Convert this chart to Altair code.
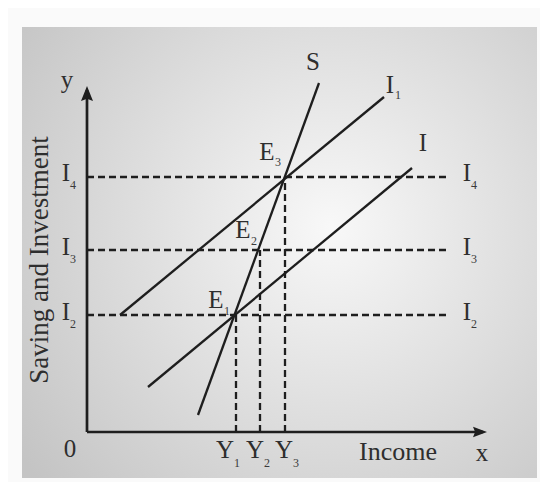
import altair as alt
import pandas as pd

# ---- data (units: arbitrary, origin at the axes' corner) ----
levels = ["I4", "I3", "I2"]
level_y = [255, 182, 117]
dash_x_end = 361

incomes = ["Y1", "Y2", "Y3"]
income_x = [149, 173, 198]
income_top = [117, 182, 255]

curve_names = ["S", "I1", "I"]
curve_x1 = [111, 33, 61]
curve_y1 = [17, 117, 45]
curve_x2 = [232, 297, 325]
curve_y2 = [349, 335, 264]

axis_x_end = 400
axis_y_end = 346

# labels: main text, subscript
lab_main = ["y", "S", "I", "I", "E", "E", "E", "I", "I", "I", "I", "I", "I", "0", "Y", "Y", "Y", "x"]
lab_mx = [-20, 226, 303, 336, 180, 156, 129, -21, -21, -21, 380, 380, 380, -17, 138, 168, 197, 395]
lab_my = [352, 370, 347, 289, 280, 202, 132, 259, 185, 120, 259, 185, 120, -17, -18, -18, -18, -21]
lab_sub = ["", "", "1", "", "3", "2", "1", "4", "3", "2", "4", "3", "2", "", "1", "2", "3", ""]
lab_sx = [0, 0, 311, 0, 191, 167, 140, -14, -14, -14, 387, 387, 387, 0, 150, 180, 209, 0]
lab_sy = [0, 0, 337, 0, 270, 191, 121, 247, 173, 108, 247, 173, 108, 0, -31, -31, -31, 0]

x_title = "Income"
x_title_pos = (311, -20)
y_title = "Saving and Investment"
y_title_pos = (-47, 172)

panel = dict(x=-65, x2=450, y=-46, y2=405)

# ---- scales ----
xs = alt.Scale(domain=[-79, 453], nice=False, zero=False)
ys = alt.Scale(domain=[-50, 424], nice=False, zero=False)
X = lambda f: alt.X(f, type="quantitative", scale=xs, axis=None)
Y = lambda f: alt.Y(f, type="quantitative", scale=ys, axis=None)

FONT = "Liberation Serif"
INK = "#1e1e1e"

bg = alt.Chart(pd.DataFrame([panel])).mark_rect(
    fill={
        "gradient": "radial",
        "x1": 0.6, "y1": 0.45, "r1": 0,
        "x2": 0.6, "y2": 0.45, "r2": 0.75,
        "stops": [
            {"offset": 0, "color": "#f8f8f8"},
            {"offset": 1, "color": "#c4c4c4"},
        ],
    }
).encode(x=X("x"), x2="x2", y=Y("y"), y2="y2")

axes_df = pd.DataFrame({
    "x": [0, 0], "y": [0, 0],
    "x2": [axis_x_end - 4, 0], "y2": [0, axis_y_end - 4],
})
axes = alt.Chart(axes_df).mark_rule(color=INK, strokeWidth=2.7).encode(
    x=X("x"), y=Y("y"), x2="x2", y2="y2"
)

up = alt.Chart(pd.DataFrame({"x": [0], "y": [axis_y_end]})).mark_point(
    shape="M0,0L0.8,2L0,1.7L-0.8,2Z", filled=True, size=225, color=INK, opacity=1
).encode(x=X("x"), y=Y("y"))
right = alt.Chart(pd.DataFrame({"x": [axis_x_end], "y": [0]})).mark_point(
    shape="M0,0L-2,-0.75L-1.7,0L-2,0.75Z", filled=True, size=196, color=INK, opacity=1
).encode(x=X("x"), y=Y("y"))

h_df = pd.DataFrame({"name": levels, "y": level_y, "x": [0] * 3, "x2": [dash_x_end] * 3})
hdash = alt.Chart(h_df).mark_rule(color=INK, strokeWidth=2.3, strokeDash=[7, 4]).encode(
    x=X("x"), x2="x2", y=Y("y")
)
v_df = pd.DataFrame({"name": incomes, "x": income_x, "y": [0] * 3, "y2": income_top})
vdash = alt.Chart(v_df).mark_rule(color=INK, strokeWidth=2.3, strokeDash=[7, 4]).encode(
    x=X("x"), y=Y("y"), y2="y2"
)

c_df = pd.DataFrame({"name": curve_names, "x": curve_x1, "y": curve_y1,
                     "x2": curve_x2, "y2": curve_y2})
curves = alt.Chart(c_df).mark_rule(color=INK, strokeWidth=2.3).encode(
    x=X("x"), y=Y("y"), x2="x2", y2="y2"
)

m_df = pd.DataFrame({"t": lab_main, "x": lab_mx, "y": lab_my})
mains = alt.Chart(m_df).mark_text(
    font=FONT, fontSize=25, color="#2e2e2e", align="center", baseline="middle"
).encode(x=X("x"), y=Y("y"), text="t:N")

s_df = pd.DataFrame({"t": lab_sub, "x": lab_sx, "y": lab_sy})
s_df = s_df[s_df["t"] != ""]
subs = alt.Chart(s_df).mark_text(
    font=FONT, fontSize=12, color="#3a3a3a", align="center", baseline="middle"
).encode(x=X("x"), y=Y("y"), text="t:N")

xt = alt.Chart(pd.DataFrame({"t": [x_title], "x": [x_title_pos[0]], "y": [x_title_pos[1]]})).mark_text(
    font=FONT, fontSize=26, color="#2e2e2e", align="center", baseline="middle"
).encode(x=X("x"), y=Y("y"), text="t:N")
yt = alt.Chart(pd.DataFrame({"t": [y_title], "x": [y_title_pos[0]], "y": [y_title_pos[1]]})).mark_text(
    font=FONT, fontSize=27, color="#2e2e2e", align="center", baseline="middle", angle=270
).encode(x=X("x"), y=Y("y"), text="t:N")

chart = alt.layer(bg, hdash, vdash, curves, axes, up, right, mains, subs, xt, yt).properties(
    width=532, height=474, padding=0, autosize=alt.AutoSizeParams(type="none"),
    background="#fafafa",
).configure_view(strokeWidth=0)

chart.save("out.html", embed_options={"renderer": "svg", "actions": False})
